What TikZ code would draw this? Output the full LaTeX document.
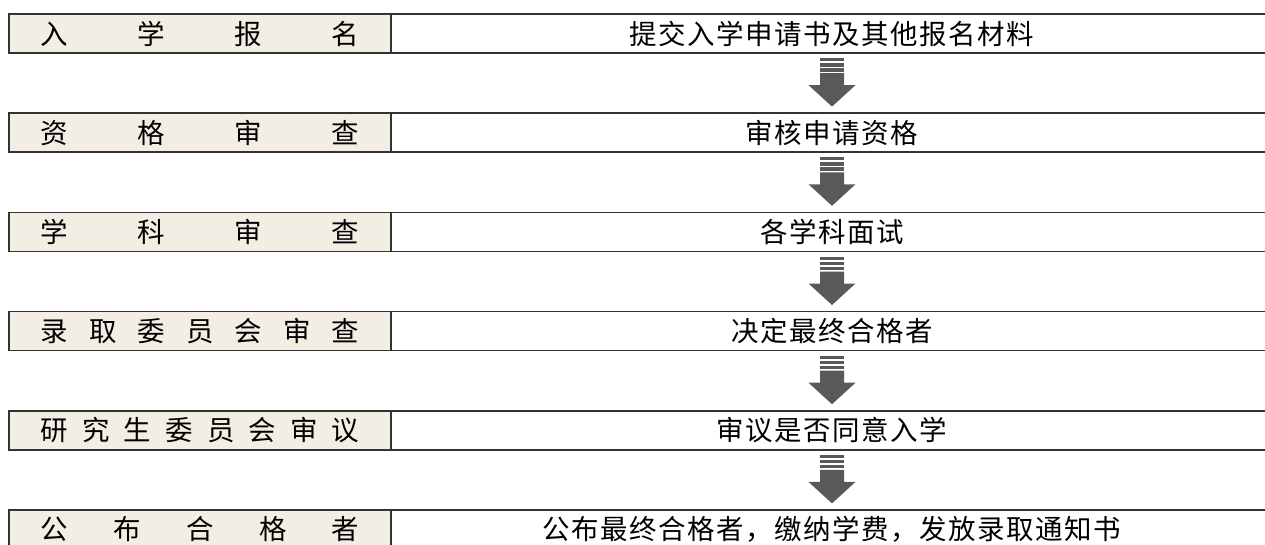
\documentclass[tikz,border=0pt]{standalone}
\usepackage{fontspec}
\setmainfont{Noto Sans CJK SC}[LetterSpace=5.5]
\usetikzlibrary{positioning, calc}
\definecolor{stagefill}{HTML}{F2EEE4}
\definecolor{rulecol}{HTML}{333333}
\definecolor{arrowcol}{HTML}{595959}

\begin{document}
\begin{tikzpicture}[x=0.75pt,y=-0.75pt,node distance=45.15pt,
	font=\fontsize{20.6pt}{24pt}\selectfont]
	\tikzstyle{stage}=[draw=rulecol,line width=1.1pt,fill=stagefill,
		minimum width=286.5pt,minimum height=29.25pt,inner sep=0pt,outer sep=0pt]
	\tikzstyle{task}=[minimum width=661.5pt,minimum height=29.25pt,inner sep=0pt,
		outer sep=0pt,anchor=west]
	\tikzstyle{rule}=[draw=rulecol,line width=1.1pt]
	\tikzset{flowarrow/.pic={
		\fill[arrowcol] (-12,-25) rectangle (12,-22);
		\fill[arrowcol] (-12,-20) rectangle (12,-16.5);
		\fill[arrowcol] (-12,-15) rectangle (12,-11.5);
		\fill[arrowcol] (-12,-10) -- (12,-10) -- (12,2) -- (23.5,2) -- (0,23.5)
			-- (-23.5,2) -- (-12,2) -- cycle;
	}}
	\useasboundingbox (0,0) rectangle (1265,544);

	\node[stage] (s1) at (200,33.5) {\makebox[239pt][s]{入\hfill 学\hfill 报\hfill 名}\hspace{8.25pt}};
	\node[stage] (s2) [below=of s1] {\makebox[239pt][s]{资\hfill 格\hfill 审\hfill 查}\hspace{8.25pt}};
	\node[stage] (s3) [below=of s2] {\makebox[239pt][s]{学\hfill 科\hfill 审\hfill 查}\hspace{8.25pt}};
	\node[stage] (s4) [below=of s3] {\makebox[239pt][s]{录\hfill 取\hfill 委\hfill 员\hfill 会\hfill 审\hfill 查}\hspace{8.25pt}};
	\node[stage] (s5) [below=of s4] {\makebox[239pt][s]{研\hfill 究\hfill 生\hfill 委\hfill 员\hfill 会\hfill 审\hfill 议}\hspace{8.25pt}};
	\node[stage] (s6) [below=of s5] {\makebox[239pt][s]{公\hfill 布\hfill 合\hfill 格\hfill 者}\hspace{8.25pt}};

	\node[task] (r1) at (s1.east) {提交入学申请书及其他报名材料};
	\node[task] (r2) at (s2.east) {审核申请资格};
	\node[task] (r3) at (s3.east) {各学科面试};
	\node[task] (r4) at (s4.east) {决定最终合格者};
	\node[task] (r5) at (s5.east) {审议是否同意入学};
	\node[task] (r6) at (s6.east) {公布最终合格者，缴纳学费，发放录取通知书};

	% rules of the right cells
	\draw[rule] (r1.north west) -- (r1.north east) (r1.south west) -- (r1.south east);
	\draw[rule] (r2.north west) -- (r2.north east) (r2.south west) -- (r2.south east);
	\draw[rule] (r3.north west) -- (r3.north east) (r3.south west) -- (r3.south east);
	\draw[rule] (r4.north west) -- (r4.north east) (r4.south west) -- (r4.south east);
	\draw[rule] (r5.north west) -- (r5.north east) (r5.south west) -- (r5.south east);
	\draw[rule] (r6.north west) -- (r6.north east) (r6.south west) -- (r6.south east);

	% arrows
	\path ($(r1.south)!0.5!(r2.north)$) pic {flowarrow};
	\path ($(r2.south)!0.5!(r3.north)$) pic {flowarrow};
	\path ($(r3.south)!0.5!(r4.north)$) pic {flowarrow};
	\path ($(r4.south)!0.5!(r5.north)$) pic {flowarrow};
	\path ($(r5.south)!0.5!(r6.north)$) pic {flowarrow};
\end{tikzpicture}
\end{document}
